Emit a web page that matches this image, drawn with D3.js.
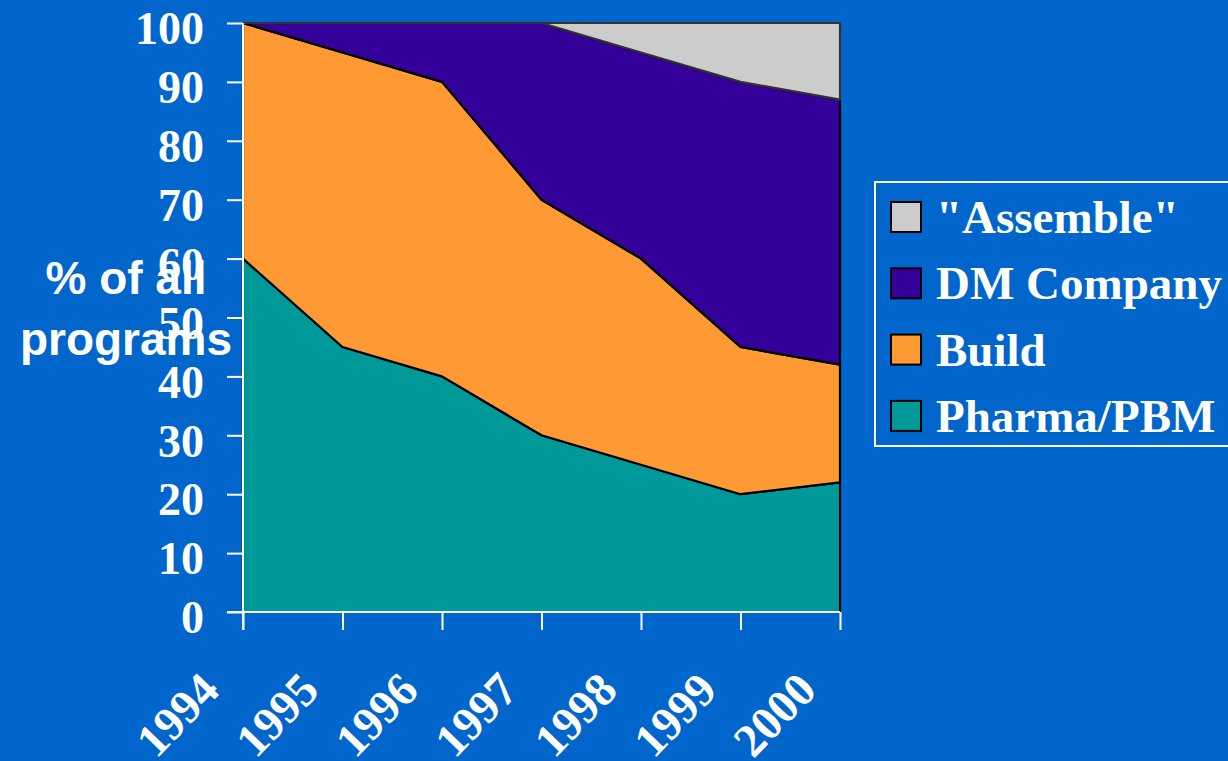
<!DOCTYPE html>
<html>
<head>
<meta charset="utf-8">
<script src="https://cdn.jsdelivr.net/npm/d3@7"></script>
<style>
  html, body { margin: 0; padding: 0; background: #0066cc; overflow: hidden; }
  svg { display: block; }
</style>
</head>
<body>
<div id="graph"></div>
<script>
// data (share of programs, %)
const years = [1994, 1995, 1996, 1997, 1998, 1999, 2000];
const pharma = [60, 45, 40, 30, 25, 20, 22];
const build = [40, 50, 50, 40, 35, 25, 20];
const dmCompany = [0, 5, 10, 30, 35, 45, 45];
const assemble = [0, 0, 0, 0, 5, 10, 13];
const seriesNames = ["Pharma/PBM", "Build", "DM Company", "\"Assemble\""];
const seriesColors = ["#009999", "#ff9933", "#330099", "#cccccc"];
const yTicks = [0, 10, 20, 30, 40, 50, 60, 70, 80, 90, 100];

const W = 1228, H = 761;
const svg = d3.select("#graph").append("svg")
    .attr("width", W)
    .attr("height", H);

const x = d3.scaleLinear().domain([1994, 2000]).range([243, 840]);
const y = d3.scaleLinear().domain([0, 100]).range([612, 23]);

const rows = years.map((yr, i) => ({
    year: yr,
    "Pharma/PBM": pharma[i],
    "Build": build[i],
    "DM Company": dmCompany[i],
    "\"Assemble\"": assemble[i]
}));
const stacked = d3.stack().keys(seriesNames)(rows);

const area = d3.area()
    .x(d => x(d.data.year))
    .y0(d => y(d[0]))
    .y1(d => y(d[1]));

svg.selectAll(".band")
    .data(stacked)
    .enter()
    .append("path")
    .attr("class", "band")
    .attr("d", area)
    .attr("fill", (d, i) => seriesColors[i])
    .attr("stroke", (d, i) => i == 3 ? "#333" : "#000")
    .attr("stroke-width", 2.2)
    .attr("stroke-linejoin", "round");

// axes (white)
const yAxis = svg.append("g")
    .attr("transform", "translate(243,0)")
    .call(d3.axisLeft(y).tickValues(yTicks).tickSize(16).tickFormat(d3.format("d")));
yAxis.select(".domain").attr("stroke", "#fff").attr("stroke-width", 2).attr("d", "M0,23V630");
yAxis.selectAll(".tick line").attr("stroke", "#fff").attr("stroke-width", 2);
yAxis.selectAll(".tick text")
    .attr("x", -39)
    .attr("dy", "0.45em")
    .attr("fill", "#fff")
    .style("font-family", "'Liberation Serif', 'Times New Roman', serif")
    .style("font-weight", "bold")
    .style("font-size", "46px");

const xAxis = svg.append("g")
    .attr("transform", "translate(0,612)")
    .call(d3.axisBottom(x).tickValues(years).tickSize(18).tickFormat(d3.format("d")));
xAxis.select(".domain").attr("stroke", "#fff").attr("stroke-width", 2).attr("d", "M227,0H840");
xAxis.selectAll(".tick line").attr("stroke", "#fff").attr("stroke-width", 2);
xAxis.selectAll(".tick text")
    .attr("x", 0).attr("y", 0).attr("dy", 0)
    .attr("text-anchor", "end")
    .attr("transform", "translate(-22,80) rotate(-46)")
    .attr("fill", "#fff")
    .style("font-family", "'Liberation Serif', 'Times New Roman', serif")
    .style("font-weight", "bold")
    .style("font-size", "47px");

// y axis title
const title = svg.append("text")
    .attr("text-anchor", "middle")
    .attr("fill", "#fff")
    .style("font-family", "'Liberation Sans', Arial, sans-serif")
    .style("font-weight", "bold")
    .style("font-size", "46px");
title.append("tspan").attr("x", 126).attr("y", 294).text("% of all");
title.append("tspan").attr("x", 126).attr("y", 355).text("programs");

// legend (top entry first)
const legend = svg.append("g");
legend.append("rect")
    .attr("x", 875).attr("y", 182)
    .attr("width", 380).attr("height", 264)
    .attr("fill", "none")
    .attr("stroke", "#fff")
    .attr("stroke-width", 2);

const legendOrder = [3, 2, 1, 0];
const item = legend.selectAll(".item")
    .data(legendOrder)
    .enter()
    .append("g")
    .attr("class", "item")
    .attr("transform", (d, i) => "translate(891," + (202 + i * 66.3) + ")");
item.append("rect")
    .attr("width", 30).attr("height", 30)
    .attr("fill", d => seriesColors[d])
    .attr("stroke", "#000")
    .attr("stroke-width", 2);
item.append("text")
    .attr("x", 45).attr("y", 31)
    .attr("fill", "#fff")
    .style("font-family", "'Liberation Serif', 'Times New Roman', serif")
    .style("font-weight", "bold")
    .style("font-size", "47px")
    .text(d => seriesNames[d]);
</script>
</body>
</html>
